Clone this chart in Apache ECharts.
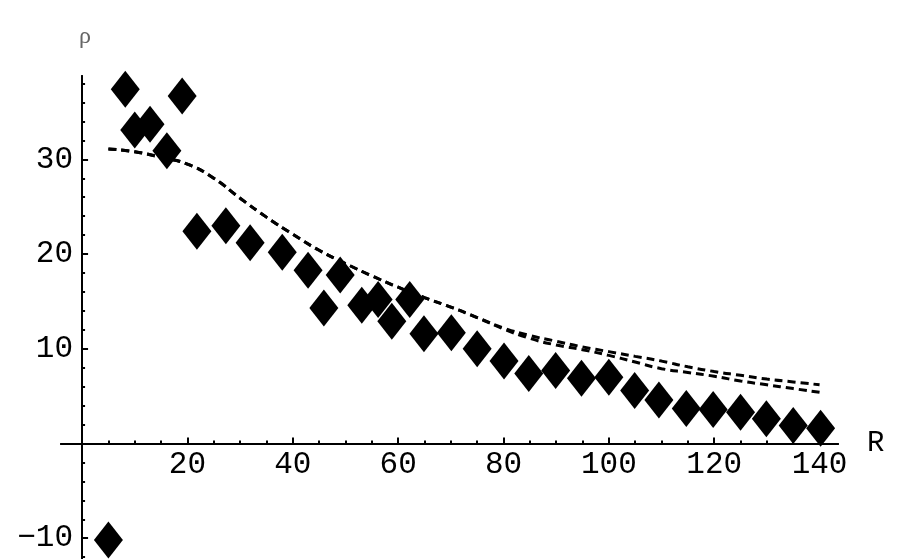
<!DOCTYPE html>
<html>
<head>
<meta charset="utf-8">
<script src="https://cdn.jsdelivr.net/npm/echarts@6/dist/echarts.min.js"></script>
<style>html,body{margin:0;padding:0;background:#fff;}#c{width:900px;height:559px;}</style>
</head>
<body>
<div id="c"></div>
<script>
// Measured points (R, rho)
const pointR   = [5, 8.2, 10, 12.9, 16.1, 19, 21.8, 27.3, 31.9, 38, 42.9, 45.9, 49, 53.1, 56.2, 58.8, 62.2, 64.9, 70.1, 75, 80.1, 84.8, 89.9, 94.8, 100, 104.9, 109.5, 114.7, 119.8, 125, 129.9, 135, 140.2];
const pointRho = [-10.2, 37.4, 33.1, 33.7, 30.9, 36.7, 22.4, 23.0, 21.2, 20.2, 18.3, 14.3, 17.8, 14.6, 15.2, 12.9, 15.2, 11.6, 11.7, 10.0, 8.7, 7.4, 7.7, 6.9, 7.0, 5.6, 4.6, 3.7, 3.6, 3.3, 2.6, 1.9, 1.6];
// Fitted curves
const curveR    = [5, 10, 15, 20, 25, 30, 35, 40, 45, 50, 55, 60, 65, 70, 75, 80, 85, 90, 95, 100, 105, 110, 115, 120, 125, 130, 135, 140];
const curveUpper = [31.1, 30.8, 30.2, 29.5, 28.0, 25.9, 23.9, 22.1, 20.4, 19.0, 17.7, 16.5, 15.4, 14.4, 13.3, 12.2, 11.4, 10.8, 10.2, 9.7, 9.2, 8.7, 8.1, 7.6, 7.2, 6.8, 6.5, 6.2];
const curveLower = [31.1, 30.8, 30.2, 29.5, 28.0, 25.9, 23.9, 22.1, 20.4, 19.0, 17.7, 16.5, 15.4, 14.4, 13.3, 12.1, 11.1, 10.4, 9.9, 9.3, 8.6, 7.9, 7.5, 7.1, 6.6, 6.2, 5.8, 5.4];
// Ticks
const xMajorTicks = [20, 40, 60, 80, 100, 120, 140];
const xMinorTicks = [5, 10, 15, 25, 30, 35, 45, 50, 55, 65, 70, 75, 85, 90, 95, 105, 110, 115, 125, 130, 135];
const yMajorTicks = [-10, 10, 20, 30];
const yMinorTicks = [-12, -8, -6, -4, -2, 2, 4, 6, 8, 12, 14, 16, 18, 22, 24, 26, 28, 32, 34, 36, 38];

const zip = (a, b) => a.map((v, i) => [v, b[i]]);
const chart = echarts.init(document.getElementById('c'), null, {renderer: 'canvas'});
const mono = 'Liberation Mono';
const XMIN = -4, XMAX = 143.5, YMIN = -12.3, YMAX = 38.8;
const G = {left: 61, width: 777, top: 76, height: 484};
// offsets that bring label-only axes onto the zero lines
const xLabOffset = -(0 - YMIN) * G.height / (YMAX - YMIN);
const yLabOffset = -(0 - XMIN) * G.width / (XMAX - XMIN);

function xAx(ticks, len, name) {
  return {
    type: 'value', min: XMIN, max: XMAX, position: 'bottom',
    splitLine: {show: false},
    axisLine: {show: true, onZero: true, lineStyle: {color: '#000', width: 2}},
    axisTick: {show: true, inside: true, length: len, customValues: ticks, lineStyle: {color: '#000', width: 2}},
    axisLabel: {show: false},
    name: name || '', nameLocation: 'end', nameGap: 29,
    nameTextStyle: {color: '#000', fontFamily: mono, fontSize: 29, verticalAlign: 'middle'}
  };
}
function yAx(ticks, len, name) {
  return {
    type: 'value', min: YMIN, max: YMAX, position: 'left',
    splitLine: {show: false},
    axisLine: {show: true, onZero: true, lineStyle: {color: '#000', width: 2}},
    axisTick: {show: true, inside: true, length: len, customValues: ticks, lineStyle: {color: '#000', width: 2}},
    axisLabel: {show: false},
    name: name || '', nameLocation: 'end', nameGap: 27,
    nameTextStyle: {color: '#666', fontFamily: 'Liberation Serif', fontSize: 24, align: 'left', padding: [0, 0, 0, -3]}
  };
}

chart.setOption({
  animation: false,
  backgroundColor: '#fff',
  grid: Object.assign({containLabel: false, outerBoundsMode: 'none'}, G),
  xAxis: [
    xAx(xMajorTicks, 6, 'R'),
    xAx(xMinorTicks, 3),
    {type: 'value', min: XMIN, max: XMAX, position: 'bottom', offset: xLabOffset,
     axisLine: {show: false, onZero: false}, axisTick: {show: false}, splitLine: {show: false},
     axisLabel: {show: true, customValues: xMajorTicks, color: '#000', fontFamily: mono, fontSize: 31, margin: 6}}
  ],
  yAxis: [
    yAx(yMajorTicks, 6, 'ρ'),
    yAx(yMinorTicks, 3),
    {type: 'value', min: YMIN, max: YMAX, position: 'left', offset: yLabOffset,
     axisLine: {show: false, onZero: false}, axisTick: {show: false}, splitLine: {show: false},
     axisLabel: {show: true, customValues: yMajorTicks, color: '#000', fontFamily: mono, fontSize: 31, margin: 9,
       formatter: v => (v < 0 ? '\u2212' + (-v) : '' + v)}}
  ],
  series: [
    {type: 'line', data: zip(curveR, curveUpper), showSymbol: false, smooth: true,
     lineStyle: {color: '#000', width: 3, type: [8, 5]}, z: 3},
    {type: 'line', data: zip(curveR, curveLower), showSymbol: false, smooth: true,
     lineStyle: {color: '#000', width: 3, type: [8, 5]}, z: 3},
    {type: 'scatter', data: zip(pointR, pointRho), symbol: 'diamond', symbolSize: [29, 37],
     itemStyle: {color: '#000', opacity: 1}, z: 4}
  ]
});
</script>
</body>
</html>
